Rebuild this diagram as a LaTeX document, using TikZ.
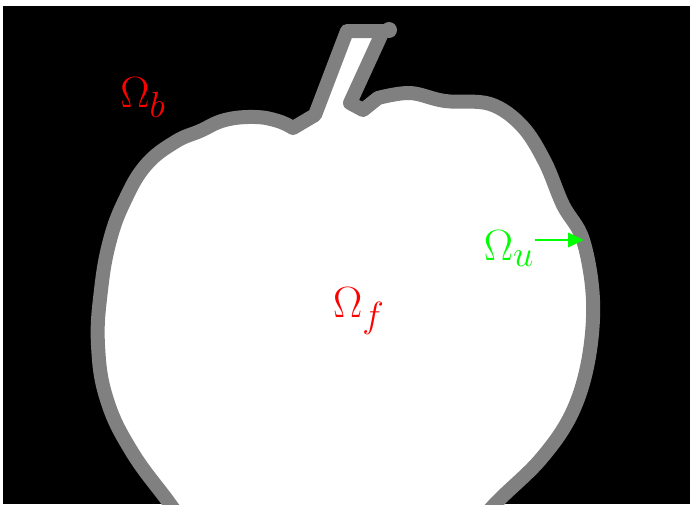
\documentclass[tikz,border=0pt]{standalone}
\usetikzlibrary{positioning, arrows.meta}

\definecolor{rimgray}{RGB}{128,128,128}
\definecolor{brightgreen}{RGB}{0,255,0}

\begin{document}
\begin{tikzpicture}[
    x=0.02cm,
    y=-0.02cm,
    font=\Huge,
    boundary/.style={
        draw=rimgray,
        fill=white,
        line width=0.28cm,
        line join=round,
        line cap=round
    },
    region/.style={
        inner sep=0pt,
        anchor=base
    },
    arrow/.style={-{Triangle[length=9pt, width=8pt]}, line width=1.7pt, brightgreen}
]

% Page and background
\useasboundingbox (0,0) rectangle (690,504);
\fill[black] (3,6) rectangle (690,504);

% Apple outline
\begin{scope}
\clip (3,6) rectangle (690,504);
\draw[boundary]
    plot[smooth, tension=0.7] coordinates {
        (195,540) (170,504) (132,452) (107,400) (98,345)
        (101,290) (110,240) (125,200) (146,165) (175,142) (200,131)
        (225,120) (255,117) (278,121) (293,128)}
    -- (315,115) -- (347,31) -- (383,31) -- (350,103) -- (363,110)
    -- plot[smooth, tension=0.6] coordinates {
        (378,98) (410,93) (445,101) (490,104) (522,126) (545,162)
        (563,205) (583,240) (593,300) (588,362) (571,415) (540,460)
        (495,504) (465,540)}
    -- cycle;
\fill[rimgray] (389,30) circle (8);
\end{scope}

% Region labels
\node[region, text=red] (bLabel) at (143,107) {$\Omega_b$};
\node[region, text=red] (fLabel) at (359,317) {$\Omega_f$};
\node[region, text=brightgreen] (uLabel) at (509,260) {$\Omega_u$};

% Arrow to the outline
\coordinate (uTip) at (584,240);
\draw[arrow] (uLabel.east |- uTip) -- (uTip);

\end{tikzpicture}
\end{document}
